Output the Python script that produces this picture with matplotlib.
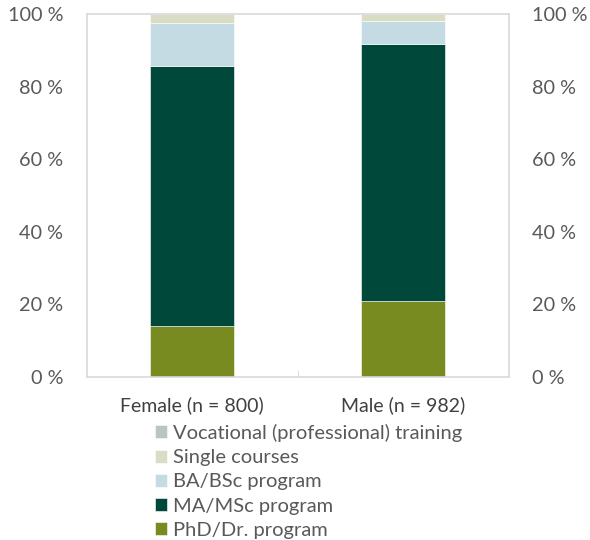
import matplotlib
matplotlib.use("Agg")
import matplotlib.pyplot as plt
import numpy as np

plt.rcParams['font.family'] = ['Lato', 'DejaVu Sans']

groups = ['Female (n = 800)', 'Male (n = 982)']
# stacked from bottom to top
series = ['PhD/Dr. program', 'MA/MSc program', 'BA/BSc program',
          'Single courses', 'Vocational (professional) training']
phd = [14.0, 20.9]
ma = [71.7, 70.8]
ba = [11.7, 6.3]
single = [2.6, 2.0]
vocational = [0.0, 0.0]
colors = ['#778B21', '#00483A', '#C5DBE3', '#D9DDC6', '#BAC4C2']
yticks = [0, 20, 40, 60, 80, 100]

fig = plt.figure(figsize=(5.9, 5.4), dpi=100)
ax = fig.add_axes([0.147, 0.302, 0.715, 0.672])

x = np.arange(len(groups))
bottom = np.zeros(len(groups))
handles = []
for name, vals, col in zip(series, [phd, ma, ba, single, vocational], colors):
    h = ax.bar(x, vals, width=0.4, bottom=bottom, color=col, label=name,
               edgecolor='white', linewidth=0.4)
    handles.append(h)
    bottom += np.array(vals)

ax.set_xlim(-0.5, 1.5)
ax.set_ylim(0, 100)
ax.set_yticks(yticks)
ax.set_yticklabels(['%d %%' % v for v in yticks])
ax.set_xticks(x)
ax.set_xticklabels(groups)
ax.set_xticks([0.5], minor=True)

for s in ax.spines.values():
    s.set_color('#D9D9D9')
    s.set_linewidth(1.2)

ax.tick_params(axis='y', length=0, labelsize=14.3, labelcolor='#595959', pad=17,
               labelleft=True, labelright=True)
ax.tick_params(axis='x', which='major', length=0, labelsize=14,
               labelcolor='#404040', pad=14)
ax.tick_params(axis='x', which='minor', length=5, color='#D9D9D9', direction='in')

leg = fig.legend(handles[::-1], series[::-1], loc='upper left',
                 bbox_to_anchor=(0.262, 0.215), frameon=False, fontsize=14.5,
                 handlelength=0.6, handleheight=0.6, handletextpad=0.3,
                 labelspacing=0.36, borderaxespad=0, borderpad=0)
for t in leg.get_texts():
    t.set_color('#595959')

fig.savefig('out.png', dpi=100)
